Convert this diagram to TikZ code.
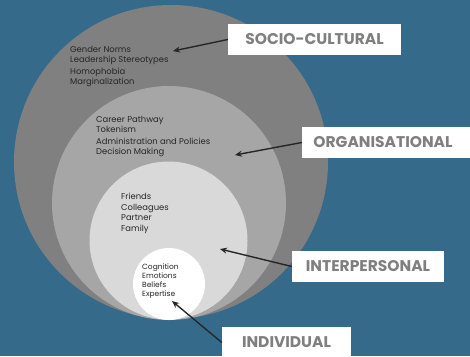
\documentclass[tikz,border=0pt]{standalone}
\usepackage{fontspec}
\setmainfont{Poppins}
\usetikzlibrary{arrows.meta}

\definecolor{bgblue}{RGB}{54,106,139}
\definecolor{ringA}{RGB}{128,128,128}
\definecolor{ringB}{RGB}{166,166,166}
\definecolor{ringC}{RGB}{217,217,217}
\definecolor{labelgray}{RGB}{127,127,127}
\definecolor{itemtext}{RGB}{38,38,38}
\definecolor{arrowdark}{RGB}{38,38,38}

\tikzset{
  ring/.style={circle, draw=none, inner sep=0pt},
  levelbox/.style={fill=white, text=labelgray, font=\fontsize{15.5}{18}\selectfont\bfseries,
                   minimum height=31pt, inner sep=0pt},
  items/.style={anchor=north west, inner sep=0pt, align=left, text=itemtext},
  pointer/.style={draw=arrowdark, line width=1.4pt, -{Stealth[length=7pt,width=6pt]}}
}

\begin{document}
\begin{tikzpicture}[x=1pt,y=-1pt]
  \useasboundingbox (0,0) rectangle (470,356);
  \clip (0,0) rectangle (470,356);
  \fill[bgblue] (0,0) rectangle (470,356);

  % nested spheres of influence
  \node[ring, fill=ringA, minimum size=314pt] (sociocultural) at (171,162) {};
  \node[ring, fill=ringB, minimum size=234pt] (organisational) at (169,203) {};
  \node[ring, fill=ringC, minimum size=158pt] (interpersonal) at (168.5,240.5) {};
  \node[ring, fill=white, minimum size=72pt] (individual) at (169,284) {};

  % factors at each level
  \node[items, font=\fontsize{8.4}{10}\selectfont] (socitems) at (70,46.5)
    {Gender Norms\\Leadership Stereotypes\\[2pt]Homophobia\\Marginalization};
  \node[items, font=\fontsize{8.4}{10}\selectfont] (orgitems) at (96,116.5)
    {Career Pathway\\Tokenism\\[2pt]Administration and Policies\\Decision Making};
  \node[items, font=\fontsize{8.4}{10.6}\selectfont] (intitems) at (121,193)
    {Friends\\Colleagues\\Partner\\Family};
  \node[items, font=\fontsize{7.5}{9}\selectfont] (inditems) at (142,264)
    {Cognition\\Emotions\\Beliefs\\Expertise};

  % level labels
  \node[levelbox, minimum width=173pt] (lblsoc) at (314.5,39.5) {SOCIO-CULTURAL};
  \node[levelbox, minimum width=170pt] (lblorg) at (387,142.5) {\hspace*{-8pt}ORGANISATIONAL};
  \node[levelbox, minimum width=152pt] (lblint) at (368,266.5) {INTERPERSONAL};
  \node[levelbox, minimum width=129pt] (lblind) at (286.5,342.5) {INDIVIDUAL};

  % arrow targets
  \coordinate (tipsoc) at (173,51);
  \coordinate (tiporg) at (235,155);
  \coordinate (tipint) at (220,249);
  \coordinate (tipind) at (172,301);

  \draw[pointer] (lblsoc.west) -- (tipsoc);
  \draw[pointer] (lblorg.west) -- (tiporg);
  \draw[pointer] (lblint.west) -- (tipint);
  \draw[pointer] (lblind.west) -- (tipind);
\end{tikzpicture}
\end{document}
